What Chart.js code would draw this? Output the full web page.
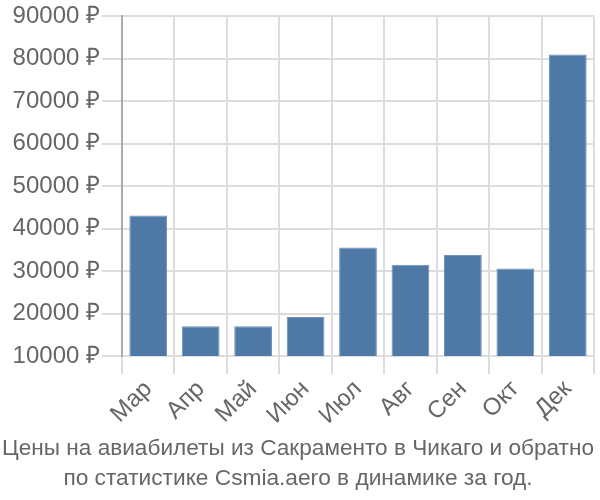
<!DOCTYPE html>
<html><head><meta charset="utf-8">
<script src="https://cdn.jsdelivr.net/npm/chart.js@4/dist/chart.umd.min.js"></script>
<style>html,body{margin:0;padding:0;background:#fff}#wrap{width:600px;height:500px}</style>
</head><body><div id="wrap"><canvas id="c" width="600" height="500"></canvas></div>
<script>
const categories = ["Мар","Апр","Май","Июн","Июл","Авг","Сен","Окт","Дек"];
const prices = [43100,17000,17000,19200,35600,31500,33800,30600,81000];
const yTicks = [10000,20000,30000,40000,50000,60000,70000,80000,90000];
const currency = "₽";
const titleLines = ["Цены на авиабилеты из Сакраменто в Чикаго и обратно","по статистике Csmia.aero в динамике за год."];

const tickFont = { family: "'Liberation Sans',Arial,sans-serif", size: 24 };

new Chart(document.getElementById('c'), {
  type: 'bar',
  data: { labels: categories, datasets: [{ data: prices, backgroundColor: '#4e79a7', borderColor:'#6d91b9', borderWidth:1 }] },
  options: {
    responsive: false, animation: false,
    layout: { padding: { left: 2, right: 6, top: 2, bottom: 6 } },
    plugins: {
      legend: { display: false }, tooltip: { enabled: false },
      title: { display: true, position: 'bottom', text: titleLines, color: '#666',
        font: { family: "'Liberation Sans',Arial,sans-serif", size: 22.7, weight: 'normal', lineHeight: 1.32 },
        padding: { top: 4, bottom: 0 } }
    },
    scales: {
      x: { grid: { color: '#ddd', lineWidth: 2, offset: true, tickLength: 18 },
           border: { color: '#ddd' },
           afterFit: (s) => { s.height = 74; },
           ticks: { color: '#666', padding: 1, maxRotation: 45, minRotation: 45, font: tickFont } },
      y: { min: yTicks[0], max: yTicks[yTicks.length-1],
           afterBuildTicks: (s) => { s.ticks = yTicks.map(v => ({ value: v })); },
           afterFit: (s) => { s.width = 120; },
           grid: { color: '#ddd', lineWidth: 2, tickLength: 20 },
           border: { color: '#aaa', width: 2 },
           ticks: { color: '#666', padding: 2, font: tickFont,
                    callback: (v) => v + ' ' + currency } }
    }
  }
});
</script></body></html>
